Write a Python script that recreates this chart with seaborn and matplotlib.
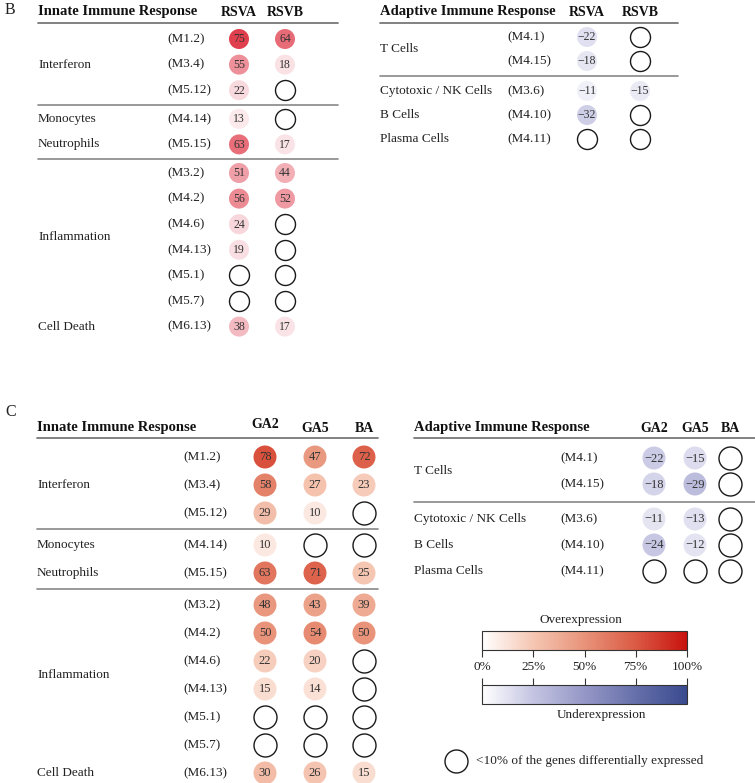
import numpy as np
import pandas as pd
import matplotlib
matplotlib.use("Agg")
import matplotlib.pyplot as plt
import seaborn as sns
from matplotlib.colors import LinearSegmentedColormap, Normalize
from matplotlib.cm import ScalarMappable

# ---- data ----
innate_modules = ['(M1.2)', '(M3.4)', '(M5.12)', '(M4.14)', '(M5.15)', '(M3.2)',
                  '(M4.2)', '(M4.6)', '(M4.13)', '(M5.1)', '(M5.7)', '(M6.13)']
innate_groups = ['Interferon'] * 3 + ['Monocytes', 'Neutrophils'] + ['Inflammation'] * 6 + ['Cell Death']
innate_breaks = [3, 5]

adaptive_modules = ['(M4.1)', '(M4.15)', '(M3.6)', '(M4.10)', '(M4.11)']
adaptive_groups = ['T Cells'] * 2 + ['Cytotoxic / NK Cells', 'B Cells', 'Plasma Cells']
adaptive_breaks = [2]

nan = np.nan
b_strains = ['RSVA', 'RSVB']
b_innate_rsva = [75, 55, 22, 13, 63, 51, 56, 24, 19, nan, nan, 38]
b_innate_rsvb = [64, 18, nan, nan, 17, 44, 52, nan, nan, nan, nan, 17]
b_adapt_rsva = [-22, -18, -11, -32, nan]
b_adapt_rsvb = [nan, nan, -15, nan, nan]

c_strains = ['GA2', 'GA5', 'BA']
c_innate_ga2 = [78, 58, 29, 10, 63, 48, 50, 22, 15, nan, nan, 30]
c_innate_ga5 = [47, 27, 10, nan, 71, 43, 54, 20, 14, nan, nan, 26]
c_innate_ba = [72, 23, nan, nan, 25, 39, 50, nan, nan, nan, nan, 15]
c_adapt_ga2 = [-22, -18, -11, -24, nan]
c_adapt_ga5 = [-15, -29, -13, -12, nan]
c_adapt_ba = [nan, nan, nan, nan, nan]

cbar_ticks = [0, 25, 50, 75, 100]

# ---- colour maps ----
red_b = LinearSegmentedColormap.from_list(
    'red_b', [(0, '#ffffff'), (0.25, '#f7d5da'), (0.5, '#f0a3ab'), (0.75, '#e0404e'), (1, '#c81428')])
blue_b = LinearSegmentedColormap.from_list(
    'blue_b', [(0, '#ffffff'), (0.25, '#dcdcef'), (0.5, '#a9acd3'), (1, '#38488c')])
red_c = LinearSegmentedColormap.from_list(
    'red_c', [(0, '#ffffff'), (0.25, '#f5c6b2'), (0.5, '#e8937a'), (0.75, '#db5a44'), (1, '#c8120e')])
blue_c = LinearSegmentedColormap.from_list(
    'blue_c', [(0, '#ffffff'), (0.25, '#c4c4e2'), (0.5, '#9597c6'), (0.75, '#6670aa'), (1, '#3a4a8f')])

sns.set_theme(style="white")
plt.rcParams['font.family'] = ['Liberation Serif', 'DejaVu Serif']
TXT = '#222222'

W, H = 755, 783
fig = plt.figure(figsize=(W / 100, H / 100), dpi=100)
ax = fig.add_axes([0, 0, 1, 1])


def draw_table(ax, title, groups, modules, breaks, cols, col_vals, lay, rcmap, bcmap):
    n = len(modules)
    ys = [lay['y0'] + i * lay['step'] + lay['gap'] * sum(b <= i for b in breaks) for i in range(n)]

    # header
    ax.text(lay['x_grp'], lay['head_y'], title, fontsize=10.5, fontweight='bold',
            ha='left', va='center', color='#111111')
    for cx, name, hy in zip(lay['col_x'], cols, lay['col_head_y']):
        ax.text(cx, hy, name, fontsize=10, fontweight='bold', ha='center', va='center', color='#111111')
    ax.plot([lay['line_x0'], lay['line_x1']], [lay['line_y']] * 2, color='#777777', lw=1.3)
    for b in breaks:
        yb = (ys[b - 1] + ys[b]) / 2
        ax.plot([lay['line_x0'], lay['line_x1']], [yb] * 2, color='#888888', lw=1.2)

    # group & module labels
    for g in dict.fromkeys(groups):
        gy = np.mean([y for y, gg in zip(ys, groups) if gg == g])
        ax.text(lay['x_grp'], gy, g, fontsize=9.5, ha='left', va='center', color=TXT)
    for m, y in zip(modules, ys):
        ax.text(lay['x_mod'], y, m, fontsize=9.5, ha='left', va='center', color=TXT)

    # circles
    df = pd.DataFrame([(cx, y, v) for cx, vals in zip(lay['col_x'], col_vals)
                       for y, v in zip(ys, vals)], columns=['x', 'y', 'value'])
    df['mag'] = df['value'].abs()
    s = (lay['diam'] * 0.72) ** 2
    pos = df[df['value'] > 0]
    neg = df[df['value'] < 0]
    empty = df[df['value'].isna()]
    sns.scatterplot(data=pos, x='x', y='y', hue='mag', palette=rcmap, hue_norm=(0, 100),
                    s=s, linewidth=0, legend=False, ax=ax, zorder=3)
    sns.scatterplot(data=neg, x='x', y='y', hue='mag', palette=bcmap, hue_norm=(0, 100),
                    s=s, linewidth=0, legend=False, ax=ax, zorder=3)
    sns.scatterplot(data=empty, x='x', y='y', color='white', edgecolor='#1a1a1a',
                    s=s, linewidth=1.0, legend=False, ax=ax, zorder=3)
    for _, r in df.dropna().iterrows():
        lab = f"{int(r['value'])}" if r['value'] > 0 else f"\u2212{int(-r['value'])}"
        ax.text(r['x'], r['y'] + 0.5, lab, fontsize=lay['num_fs'], ha='center', va='center',
                color='#333333', zorder=4)


lay_b_innate = dict(x_grp=38, x_mod=167, col_x=[239, 285], col_head_y=[12, 12], head_y=12,
                    y0=39, step=25.6, gap=3, line_y=23, line_x0=38, line_x1=338, diam=20, num_fs=8.5)
lay_b_adapt = dict(x_grp=380, x_mod=507, col_x=[587, 640], col_head_y=[12, 12], head_y=12,
                   y0=37, step=24, gap=6, line_y=23, line_x0=380, line_x1=678, diam=20, num_fs=8.5)
lay_c_innate = dict(x_grp=37, x_mod=183, col_x=[265, 315, 364], col_head_y=[425, 429, 429], head_y=428,
                    y0=457, step=28, gap=4, line_y=438, line_x0=37, line_x1=378, diam=23, num_fs=9)
lay_c_adapt = dict(x_grp=414, x_mod=560, col_x=[654, 695, 730], col_head_y=[428, 428, 428], head_y=428,
                   y0=458, step=26, gap=9, line_y=438, line_x0=414, line_x1=755, diam=23, num_fs=9)

draw_table(ax, 'Innate Immune Response', innate_groups, innate_modules, innate_breaks, b_strains,
           [b_innate_rsva, b_innate_rsvb], lay_b_innate, red_b, blue_b)
draw_table(ax, 'Adaptive Immune Response', adaptive_groups, adaptive_modules, adaptive_breaks, b_strains,
           [b_adapt_rsva, b_adapt_rsvb], lay_b_adapt, red_b, blue_b)
draw_table(ax, 'Innate Immune Response', innate_groups, innate_modules, innate_breaks, c_strains,
           [c_innate_ga2, c_innate_ga5, c_innate_ba], lay_c_innate, red_c, blue_c)
draw_table(ax, 'Adaptive Immune Response', adaptive_groups, adaptive_modules, adaptive_breaks, c_strains,
           [c_adapt_ga2, c_adapt_ga5, c_adapt_ba], lay_c_adapt, red_c, blue_c)

# panel letters
ax.text(5, 10, 'B', fontsize=11.5, ha='left', va='center', color=TXT)
ax.text(5, 412, 'C', fontsize=11.5, ha='left', va='center', color=TXT)

# colour bars
ax.text(581, 620, 'Overexpression', fontsize=9.5, ha='center', va='center', color=TXT)
ax.text(601, 715, 'Underexpression', fontsize=9.5, ha='center', va='center', color=TXT)

# legend for open circles
sns.scatterplot(x=[456], y=[761], color='white', edgecolor='#1a1a1a', s=(23 * 0.72) ** 2,
                linewidth=1.0, legend=False, ax=ax, zorder=3)
ax.text(476, 761, '<10% of the genes differentially expressed', fontsize=9.5,
        ha='left', va='center', color=TXT)

ax.set_xlim(0, W)
ax.set_ylim(H, 0)
ax.axis('off')

norm = Normalize(0, 100)
cax_r = fig.add_axes([482 / W, 1 - 650 / H, 205 / W, 19 / H])
cb_r = fig.colorbar(ScalarMappable(norm=norm, cmap=red_c), cax=cax_r, orientation='horizontal',
                    ticks=cbar_ticks)
cb_r.ax.set_xticklabels([f'{t}%' for t in cbar_ticks])
cb_r.ax.tick_params(axis='x', length=5, width=0.8, color='#333333', labelsize=9.5,
                    labelcolor=TXT, pad=3)
cb_r.outline.set_linewidth(0.8)
cb_r.outline.set_edgecolor('#333333')

cax_b = fig.add_axes([482 / W, 1 - 704 / H, 205 / W, 19 / H])
cb_b = fig.colorbar(ScalarMappable(norm=norm, cmap=blue_c), cax=cax_b, orientation='horizontal',
                    ticks=cbar_ticks)
cb_b.ax.xaxis.set_ticks_position('top')
cb_b.ax.tick_params(axis='x', length=5, width=0.8, color='#333333', labeltop=False, labelbottom=False)
cb_b.outline.set_linewidth(0.8)
cb_b.outline.set_edgecolor('#333333')

fig.savefig('out.png', dpi=100)
